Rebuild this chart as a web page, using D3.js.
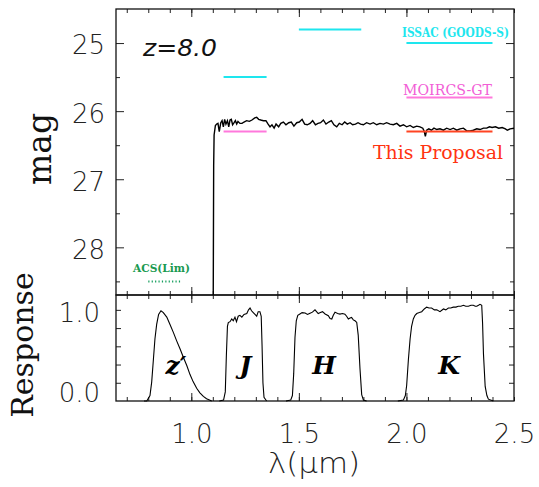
<!DOCTYPE html>
<html lang="en">
<head>
<meta charset="UTF-8">
<title>z=8.0 spectrum and filter response</title>
<script src="https://d3js.org/d3.v7.min.js"></script>
<style>
    body { margin: 0; background: #fff; }
    svg { display: block; }
    .tick-lab text { font-family: "DejaVu Sans", sans-serif; font-weight: 200; font-size: 26px; fill: #222; }
    .serif { font-family: "DejaVu Serif", serif; }
</style>
</head>
<body>
<div id="chart"></div>
<script>
// spectrum of the z=8 galaxy: [wavelength (micron), AB mag]
const spectrum = [
    [1.102, 28.7], [1.104, 26.8], [1.106, 26.35], [1.112, 26.21],
    [1.118, 26.19], [1.124, 26.18], [1.130, 26.30], [1.137, 26.17], [1.143, 26.14],
    [1.149, 26.23], [1.155, 26.12], [1.161, 26.19], [1.168, 26.14], [1.174, 26.23],
    [1.180, 26.13], [1.186, 26.12], [1.192, 26.20], [1.199, 26.17], [1.205, 26.14],
    [1.211, 26.19], [1.217, 26.15], [1.226, 26.18], [1.236, 26.18], [1.245, 26.16],
    [1.257, 26.14], [1.270, 26.15], [1.282, 26.13], [1.295, 26.10], [1.304, 26.09],
    [1.313, 26.12], [1.323, 26.13], [1.335, 26.14], [1.347, 26.14], [1.357, 26.19],
    [1.366, 26.23], [1.375, 26.20], [1.385, 26.25], [1.394, 26.19], [1.406, 26.23],
    [1.416, 26.18], [1.428, 26.16], [1.440, 26.20], [1.453, 26.17], [1.465, 26.16],
    [1.477, 26.22], [1.490, 26.17], [1.502, 26.16], [1.515, 26.12], [1.527, 26.19],
    [1.539, 26.20], [1.552, 26.18], [1.564, 26.14], [1.577, 26.20], [1.589, 26.18],
    [1.601, 26.17], [1.614, 26.13], [1.626, 26.19], [1.639, 26.16], [1.651, 26.14],
    [1.663, 26.20], [1.676, 26.23], [1.688, 26.18], [1.701, 26.20], [1.713, 26.16],
    [1.725, 26.19], [1.738, 26.17], [1.750, 26.20], [1.763, 26.19], [1.775, 26.17],
    [1.787, 26.19], [1.800, 26.20], [1.815, 26.17], [1.831, 26.19], [1.846, 26.17],
    [1.862, 26.20], [1.877, 26.18], [1.893, 26.19], [1.908, 26.17], [1.924, 26.19],
    [1.939, 26.20], [1.955, 26.18], [1.970, 26.22], [1.986, 26.20], [2.001, 26.23],
    [2.017, 26.21], [2.032, 26.24], [2.048, 26.22], [2.063, 26.23], [2.076, 26.25],
    [2.083, 26.30], [2.088, 26.37], [2.094, 26.28], [2.104, 26.26], [2.116, 26.28],
    [2.128, 26.25], [2.141, 26.27], [2.156, 26.26], [2.172, 26.28], [2.187, 26.25],
    [2.203, 26.27], [2.218, 26.25], [2.234, 26.28], [2.249, 26.26], [2.265, 26.25],
    [2.280, 26.29], [2.296, 26.29], [2.311, 26.28], [2.327, 26.26], [2.342, 26.27],
    [2.358, 26.25], [2.373, 26.25], [2.386, 26.23], [2.398, 26.24], [2.414, 26.23],
    [2.429, 26.25], [2.445, 26.24], [2.460, 26.26], [2.469, 26.28], [2.482, 26.26],
    [2.500, 26.25]
];

// filter transmission curves: [wavelength, response]
const zBand = [
    [0.78, 0], [0.793, 0], [0.808, 0.06], [0.816, 0.21], [0.824, 0.46], [0.831, 0.68],
    [0.839, 0.84], [0.848, 0.95], [0.859, 0.99], [0.870, 0.97], [0.886, 0.92],
    [0.901, 0.84], [0.917, 0.75], [0.932, 0.66], [0.948, 0.57], [0.963, 0.48],
    [0.979, 0.39], [0.994, 0.29], [1.009, 0.21], [1.025, 0.14], [1.040, 0.09],
    [1.056, 0.05], [1.071, 0.025], [1.095, 0]
];
const jBand = [
    [1.13, 0], [1.150, 0.01], [1.158, 0.1], [1.163, 0.5], [1.168, 0.82], [1.172, 0.86],
    [1.180, 0.87], [1.188, 0.90], [1.195, 0.88], [1.203, 0.92], [1.210, 0.87],
    [1.218, 0.93], [1.226, 0.94], [1.235, 0.92], [1.245, 0.95], [1.258, 0.96],
    [1.266, 1.00], [1.273, 1.02], [1.280, 0.99], [1.288, 0.97], [1.296, 0.95],
    [1.304, 0.93], [1.311, 0.98], [1.319, 0.98], [1.325, 0.93], [1.329, 0.6],
    [1.333, 0.2], [1.338, 0.04], [1.35, 0]
];
const hBand = [
    [1.44, 0], [1.462, 0.01], [1.470, 0.06], [1.476, 0.3], [1.482, 0.7], [1.488, 0.88],
    [1.495, 0.94], [1.505, 0.955], [1.515, 0.97], [1.529, 0.965], [1.540, 0.95],
    [1.552, 0.964], [1.563, 0.975], [1.575, 1.0], [1.590, 0.96], [1.600, 0.97],
    [1.610, 0.98], [1.622, 0.955], [1.637, 0.935], [1.645, 0.905], [1.653, 0.90],
    [1.660, 0.94], [1.668, 0.975], [1.680, 0.96], [1.691, 0.953], [1.703, 0.96],
    [1.714, 0.953], [1.722, 0.93], [1.730, 0.90], [1.738, 0.91], [1.745, 0.917],
    [1.753, 0.89], [1.761, 0.88], [1.769, 0.862], [1.776, 0.72], [1.784, 0.36],
    [1.792, 0.07], [1.800, 0.01], [1.815, 0]
];
const kBand = [
    [1.96, 0], [1.986, 0.01], [1.995, 0.06], [2.001, 0.17], [2.009, 0.45], [2.017, 0.68],
    [2.024, 0.82], [2.032, 0.90], [2.040, 0.94], [2.048, 0.96], [2.060, 0.97],
    [2.071, 0.98], [2.083, 1.01], [2.094, 1.03], [2.105, 1.02], [2.117, 1.02],
    [2.130, 1.00], [2.141, 1.00], [2.156, 0.98], [2.172, 1.01], [2.183, 1.00],
    [2.195, 1.02], [2.206, 1.02], [2.218, 1.03], [2.230, 1.03], [2.241, 1.04],
    [2.253, 1.04], [2.265, 1.05], [2.276, 1.04], [2.288, 1.04], [2.300, 1.05],
    [2.311, 1.05], [2.320, 1.04], [2.327, 1.04], [2.335, 1.05], [2.342, 1.06],
    [2.350, 1.05], [2.354, 0.85], [2.358, 0.52], [2.366, 0.16], [2.374, 0.06],
    [2.381, 0.02], [2.404, 0]
];
const bandNames = ["z\u2032", "J", "H", "K"];
const bandLabelX = [0.929, 1.252, 1.617, 2.198];

// depth limits: [from, to, mag]
const issacLimits = [[1.15, 1.35, 25.5], [1.50, 1.79, 24.8], [2.00, 2.40, 25.0]];
const moircsLimits = [[1.15, 1.35, 26.3], [2.00, 2.40, 25.8]];
const proposalLimits = [[2.00, 2.40, 26.3]];
const acsLimits = [[0.80, 0.95, 28.5]];

const magTicks = [25, 26, 27, 28];
const respTicks = [0, 1];
const waveTicks = [1.0, 1.5, 2.0, 2.5];

const W = 539, H = 487;
const svg = d3.select("#chart").append("svg")
    .attr("width", W).attr("height", H);

const x = d3.scaleLinear().domain([0.65, 2.5]).range([116, 514]);
const yMag = d3.scaleLinear().domain([24.5, 28.7]).range([9, 295]);
const yResp = d3.scaleLinear().domain([0, 1.163]).range([401, 295]);

const minorX = d3.range(0.7, 2.51, 0.1).map(v => +v.toFixed(2));
const majorX = [1.0, 1.5, 2.0];

// helper: ticks drawn inside a panel frame
function frameTicks(yScale, yTop, yBottom, majorY, minorY, ySize) {
    const g = svg.append("g");
    [[d3.axisTop, yBottom], [d3.axisBottom, yTop]].forEach(([ax, pos]) => {
        g.append("g").attr("transform", `translate(0,${pos})`)
            .call(ax(x).tickValues(minorX).tickSize(4).tickFormat(""));
        g.append("g").attr("transform", `translate(0,${pos})`)
            .call(ax(x).tickValues(majorX).tickSize(8).tickFormat(""));
    });
    [[d3.axisRight, 116], [d3.axisLeft, 514]].forEach(([ax, pos]) => {
        g.append("g").attr("transform", `translate(${pos},0)`)
            .call(ax(yScale).tickValues(minorY).tickSize(ySize[1]).tickFormat(""));
        g.append("g").attr("transform", `translate(${pos},0)`)
            .call(ax(yScale).tickValues(majorY).tickSize(ySize[0]).tickFormat(""));
    });
    g.selectAll(".domain").remove();
    g.selectAll(".tick line").attr("stroke", "#222").attr("stroke-width", 1);
}

frameTicks(yMag, 9, 295, magTicks, [25.5, 26.5, 27.5, 28.5], [8, 4]);
frameTicks(yResp, 295, 401, [0.2, 0.4, 0.6, 0.8, 1.0], [], [5, 5]);

// frames
svg.append("rect").attr("x", 116).attr("y", 9).attr("width", 398).attr("height", 286)
    .attr("fill", "none").attr("stroke", "#111").attr("stroke-width", 1.3);
svg.append("rect").attr("x", 116).attr("y", 295).attr("width", 398).attr("height", 106)
    .attr("fill", "none").attr("stroke", "#111").attr("stroke-width", 1.3);

// tick labels
const magAxis = svg.append("g").attr("class", "tick-lab").attr("transform", "translate(116,0)")
    .call(d3.axisLeft(yMag).tickValues(magTicks).tickSize(0).tickPadding(11).tickFormat(d3.format("d")));
magAxis.selectAll("text").attr("dy", "0.42em");

const respAxis = svg.append("g").attr("class", "tick-lab").attr("transform", "translate(116,0)")
    .call(d3.axisLeft(yResp).tickValues(respTicks).tickSize(0).tickPadding(16).tickFormat(d3.format(".1f")));
respAxis.selectAll("text").attr("dy", d => d === 0 ? "-0.0em" : "0.45em");

svg.append("g").attr("class", "tick-lab").attr("transform", "translate(0,401)")
    .call(d3.axisBottom(x).tickValues(waveTicks).tickSize(0).tickPadding(24).tickFormat(d3.format(".1f")));

svg.selectAll(".tick-lab .domain").remove();

// axis titles
svg.append("text").attr("class", "serif")
    .attr("transform", "translate(51,149) rotate(-90)")
    .attr("text-anchor", "middle").attr("font-size", 34).attr("fill", "#111")
    .attr("textLength", 72).attr("lengthAdjust", "spacingAndGlyphs")
    .text("mag");
svg.append("text").attr("class", "serif")
    .attr("transform", "translate(33,345) rotate(-90)")
    .attr("text-anchor", "middle").attr("font-size", 30).attr("fill", "#111").text("Response");
svg.append("text")
    .attr("x", 314).attr("y", 473).attr("text-anchor", "middle")
    .attr("font-family", "DejaVu Sans").attr("font-weight", 200).attr("font-size", 28).attr("fill", "#222")
    .attr("textLength", 92).attr("lengthAdjust", "spacingAndGlyphs")
    .text("\u03bb(\u03bcm)");

// spectrum
svg.append("clipPath").attr("id", "clipTop")
    .append("rect").attr("x", 116).attr("y", 9).attr("width", 398).attr("height", 286);
svg.append("path").datum(spectrum)
    .attr("clip-path", "url(#clipTop)")
    .attr("fill", "none").attr("stroke", "#000").attr("stroke-width", 1.4)
    .attr("d", d3.line().x(d => x(d[0])).y(d => yMag(d[1])));

// limit segments
function segs(data, color, dash) {
    svg.append("g").selectAll("line").data(data).join("line")
        .attr("x1", d => x(d[0])).attr("x2", d => x(d[1]))
        .attr("y1", d => yMag(d[2])).attr("y2", d => yMag(d[2]))
        .attr("stroke", color).attr("stroke-width", 2)
        .attr("stroke-dasharray", dash || null);
}
segs(issacLimits, "#1ee6ee");
segs(moircsLimits, "#ff78dc");
segs(proposalLimits, "#ff4422");
segs(acsLimits, "#1aa060", "1.2,2.2");

// panel labels
svg.append("text").attr("x", 143).attr("y", 56)
    .attr("font-family", "DejaVu Sans").attr("font-style", "italic").attr("font-size", 23).attr("fill", "#111")
    .attr("textLength", 74).attr("lengthAdjust", "spacingAndGlyphs")
    .text("z=8.0");
svg.append("text").attr("class", "serif").attr("x", 402).attr("y", 37)
    .attr("font-size", 12).attr("font-weight", "bold").attr("fill", "#1ee6ee")
    .attr("textLength", 107).attr("lengthAdjust", "spacingAndGlyphs")
    .text("ISSAC (GOODS-S)");
svg.append("text").attr("class", "serif").attr("x", 403).attr("y", 95)
    .attr("font-size", 15).attr("fill", "#f25ed6")
    .attr("textLength", 89).attr("lengthAdjust", "spacingAndGlyphs")
    .text("MOIRCS-GT");
svg.append("text").attr("class", "serif").attr("x", 373).attr("y", 159)
    .attr("font-size", 18).attr("fill", "#ff3311")
    .attr("textLength", 130).attr("lengthAdjust", "spacingAndGlyphs")
    .text("This Proposal");
svg.append("text").attr("class", "serif").attr("x", 133).attr("y", 272)
    .attr("font-size", 11).attr("font-weight", "bold").attr("fill", "#1a9a50")
    .attr("textLength", 57).attr("lengthAdjust", "spacingAndGlyphs")
    .text("ACS(Lim)");

// filter curves
const respLine = d3.line().x(d => x(d[0])).y(d => yResp(d[1]));
svg.append("g").selectAll("path").data([zBand, jBand, hBand, kBand]).join("path")
    .attr("fill", "none").attr("stroke", "#000").attr("stroke-width", 1.1)
    .attr("d", respLine);

svg.append("g").selectAll("text").data(bandNames).join("text")
    .attr("class", "serif")
    .attr("x", (d, i) => x(bandLabelX[i])).attr("y", yResp(0.39) + 9)
    .attr("text-anchor", "middle")
    .attr("font-size", 25).attr("font-weight", "bold").attr("font-style", "italic").attr("fill", "#000")
    .text(d => d);
</script>
</body>
</html>
